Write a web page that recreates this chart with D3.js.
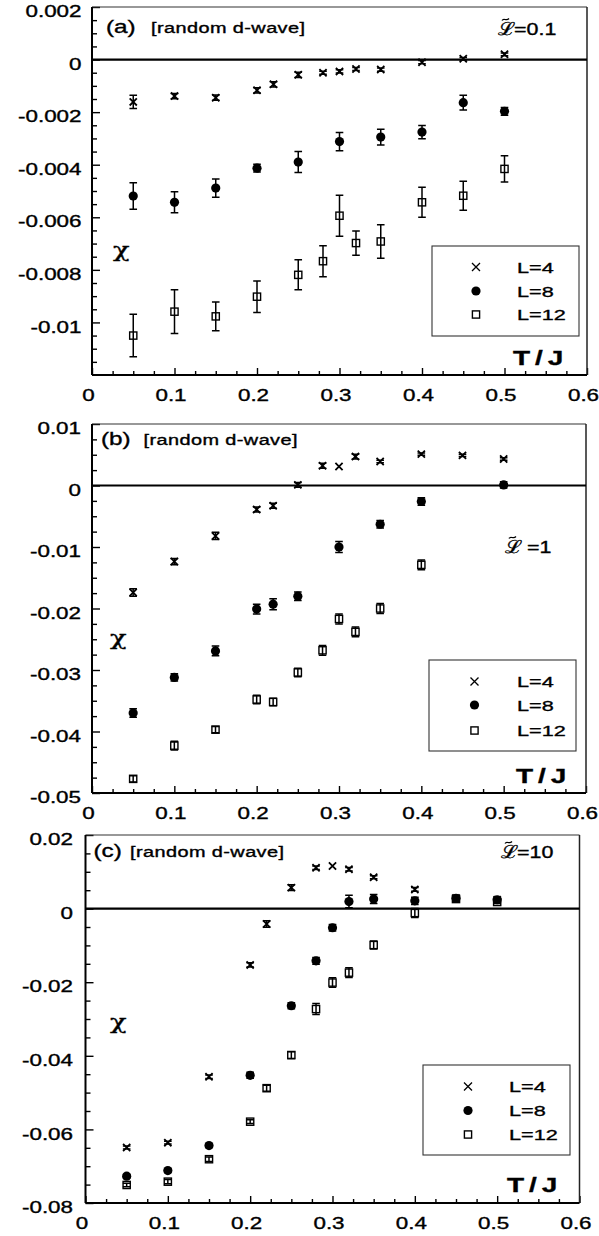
<!DOCTYPE html>
<html>
<head>
<meta charset="utf-8">
<script src="https://cdn.jsdelivr.net/npm/d3@7"></script>
<style>
body { margin: 0; background: #fff; }
svg { display: block; font-family: "Liberation Sans", Arial, sans-serif; }
svg text { stroke: #000; stroke-width: 0.35px; }
</style>
</head>
<body>
<svg id="chart" width="599" height="1236"></svg>
<script>
// temperatures T/J used by the simulations
const tAll  = [0.05, 0.1, 0.15, 0.2, 0.22, 0.25, 0.28, 0.3, 0.32, 0.35, 0.4, 0.45, 0.5];
const tNo22 = [0.05, 0.1, 0.15, 0.2, 0.25, 0.28, 0.3, 0.32, 0.35, 0.4, 0.45, 0.5];

// panel (a), L~ = 0.1
const aL4    = [-0.00161, -0.00139, -0.00145, -0.00117, -0.00094, -0.00058, -0.0005, -0.00045, -0.00036, -0.00038, -0.0001, 0.00003, 0.0002];
const aL4err = [0.00025, 0.0001, 0.0001, 0.0001, 0.0001, 0.0001, 0.00006, 0.00006, 0.00006, 0.00006, 0.00006, 0.00005, 0.00005];
const aL8T   = [0.05, 0.1, 0.15, 0.2, 0.25, 0.3, 0.35, 0.4, 0.45, 0.5];
const aL8    = [-0.00519, -0.00543, -0.00489, -0.00413, -0.0039, -0.00312, -0.00295, -0.00276, -0.00164, -0.00197];
const aL8err = [0.0005, 0.0004, 0.00035, 0.00015, 0.0004, 0.00035, 0.0003, 0.00025, 0.00028, 0.00015];
const aL12    = [-0.0105, -0.00959, -0.00977, -0.00902, -0.00819, -0.00767, -0.00594, -0.00698, -0.00692, -0.00543, -0.00518, -0.00416];
const aL12err = [0.00081, 0.00083, 0.00055, 0.0006, 0.00057, 0.00059, 0.00078, 0.00046, 0.00064, 0.00057, 0.00055, 0.0005];

// panel (b), L~ = 1
const bL4    = [-0.0174, -0.01237, -0.0082, -0.0039, -0.0033, 0.0001, 0.0032, 0.0031, 0.0047, 0.0039, 0.0051, 0.0049, 0.0043];
const bL4err = [0.0006, 0.0005, 0.0006, 0.0004, 0.0004, 0.0004, 0.0004, 0, 0.0004, 0.0002, 0.0002, 0.0002, 0.0002];
const bL8T   = [0.05, 0.1, 0.15, 0.2, 0.22, 0.25, 0.3, 0.35, 0.4, 0.5];
const bL8    = [-0.037, -0.0312, -0.0269, -0.0201, -0.0193, -0.018, -0.01, -0.0063, -0.0026, 0.0001];
const bL8err = [0.0007, 0.0006, 0.0008, 0.0008, 0.0009, 0.0007, 0.0009, 0.0006, 0.0006, 0.0005];
const bL12T   = [0.05, 0.1, 0.15, 0.2, 0.22, 0.25, 0.28, 0.3, 0.32, 0.35, 0.4];
const bL12    = [-0.0477, -0.0423, -0.0397, -0.0348, -0.0352, -0.0304, -0.0268, -0.0217, -0.0238, -0.02, -0.0129];
const bL12err = [0.0005, 0.0007, 0.0005, 0.0007, 0.0006, 0.0007, 0.0008, 0.0008, 0.0008, 0.0008, 0.0008];

// panel (c), L~ = 10
const cL4    = [-0.0649, -0.0636, -0.0457, -0.0153, -0.0042, 0.0057, 0.0111, 0.0116, 0.0107, 0.0085, 0.0052, 0.0029, 0.0024];
const cL4err = [0.0004, 0.0004, 0.0005, 0.0006, 0.0009, 0.0008, 0.0005, 0, 0.0005, 0.0004, 0.0005, 0.0003, 0.0003];
const cL8    = [-0.0727, -0.0712, -0.0644, -0.0453, -0.0264, -0.0142, -0.0052, 0.0019, 0.0026, 0.0021, 0.0028, 0.0024];
const cL8err = [0.0005, 0.0005, 0.0005, 0.0008, 0.0008, 0.0009, 0.0009, 0.0017, 0.0012, 0.001, 0.0005, 0.0005];
const cL12    = [-0.0751, -0.0742, -0.0681, -0.0579, -0.0488, -0.0398, -0.0273, -0.0201, -0.0174, -0.0099, -0.0012, 0.0026, 0.0018];
const cL12err = [0.0005, 0.0006, 0.0006, 0.0005, 0.0008, 0.0009, 0.0015, 0.0013, 0.0013, 0.0011, 0.0012, 0.0004, 0.0004];

// axis ticks
const xTicks  = [0, 0.1, 0.2, 0.3, 0.4, 0.5, 0.6];
const xLabels = ["0", "0.1", "0.2", "0.3", "0.4", "0.5", "0.6"];
const aYTicks  = [0.002, 0, -0.002, -0.004, -0.006, -0.008, -0.01];
const aYLabels = ["0.002", "0", "-0.002", "-0.004", "-0.006", "-0.008", "-0.01"];
const bYTicks  = [0.01, 0, -0.01, -0.02, -0.03, -0.04, -0.05];
const bYLabels = ["0.01", "0", "-0.01", "-0.02", "-0.03", "-0.04", "-0.05"];
const cYTicks  = [0.02, 0, -0.02, -0.04, -0.06, -0.08];
const cYLabels = ["0.02", "0", "-0.02", "-0.04", "-0.06", "-0.08"];

const legendNames = ["L=4", "L=8", "L=12"];

const SX = 1.4; // the scanned figure is stretched horizontally
const svg = d3.select("#chart");

function zip(ts, vs, es) {
    return ts.map((t, i) => ({ t: t, v: vs[i], e: es[i] }));
}

const panels = [
    {
        left: 92, right: 587, top: 7, bottom: 375, yDomain: [-0.012, 0.002], yMinor: 0.0005,
        yTicks: aYTicks, yLabels: aYLabels, labelGap: 10.5,
        tag: "(a)", tagX: 106, sub: 151, tagY: 33,
        lval: "=0.1", lx: 498, lvx: 514, ly: 35,
        chi: [113, 257], tj: [513, 365],
        legend: { x0: 432, x1: 579, y0: 246, y1: 336, mx: 476, tx: 517, rows: [267, 291, 314.5] },
        series: [zip(tNo22, aL12, aL12err), zip(aL8T, aL8, aL8err), zip(tAll, aL4, aL4err)]
    },
    {
        left: 92, right: 586, top: 424, bottom: 793, yDomain: [-0.05, 0.01], yMinor: 0.0025,
        yTicks: bYTicks, yLabels: bYLabels, labelGap: 11,
        tag: "(b)", tagX: 101, sub: 143.5, tagY: 445,
        lval: "=1", lx: 505, lvx: 527, ly: 553,
        chi: [110, 645], tj: [516, 783],
        legend: { x0: 429, x1: 576, y0: 660, y1: 751, mx: 474.5, tx: 517, rows: [681.5, 705, 730.5] },
        series: [zip(bL12T, bL12, bL12err), zip(bL8T, bL8, bL8err), zip(tAll, bL4, bL4err)]
    },
    {
        left: 85.5, right: 579.5, top: 835, bottom: 1203, yDomain: [-0.08, 0.02], yMinor: 0.005,
        yTicks: cYTicks, yLabels: cYLabels, labelGap: 12.5,
        tag: "(c)", tagX: 93.5, sub: 130, tagY: 857,
        lval: "=10", lx: 501, lvx: 517, ly: 858,
        chi: [110, 1029], tj: [507, 1191.5],
        legend: { x0: 423, x1: 570, y0: 1065, y1: 1155, mx: 468, tx: 509, rows: [1086.5, 1110.5, 1134.5] },
        series: [zip(tAll, cL12, cL12err), zip(tNo22, cL8, cL8err), zip(tAll, cL4, cL4err)]
    }
];

// wide text, like the scan
function stretchText(g, x, y, str, size, opts) {
    opts = opts || {};
    return g.append("text")
        .attr("transform", `translate(${x},${y}) scale(${opts.sx || SX},1)`)
        .attr("text-anchor", opts.anchor || "start")
        .style("font-size", size + "px")
        .style("font-weight", opts.weight || "normal")
        .style("font-family", opts.family || null)
        .style("letter-spacing", opts.spacing || null)
        .text(str);
}

// marker shapes: 0 = square (L=12), 1 = circle (L=8), 2 = cross (L=4)
function marker(g, kind, cx, cy, legend) {
    if (kind === 0) {
        g.append("rect").attr("x", cx - 3.6).attr("y", cy - 3.6).attr("width", 7.2).attr("height", 7.2)
            .attr("fill", "none").attr("stroke", "#000").attr("stroke-width", 1.4);
    } else if (kind === 1) {
        g.append("circle").attr("cx", cx).attr("cy", cy).attr("r", 4.6).attr("fill", "#000");
    } else {
        const h = legend ? 4 : 3.6;
        g.append("path")
            .attr("d", `M${cx - h},${cy - h}L${cx + h},${cy + h}M${cx - h},${cy + h}L${cx + h},${cy - h}`)
            .attr("stroke", "#000").attr("stroke-width", legend ? 1.3 : 1.8).attr("fill", "none");
    }
}

function drawPanel(p) {
    const x = d3.scaleLinear().domain([0, 0.6]).range([p.left, p.right]);
    const y = d3.scaleLinear().domain(p.yDomain).range([p.bottom, p.top]);
    const g = svg.append("g");

    const xMinor = d3.range(0, 0.6001, 0.025).filter((d, i) => i % 4 !== 0);
    const yMinor = d3.range(p.yDomain[0], p.yDomain[1] + 1e-9, p.yMinor).filter(d =>
        !p.yTicks.some(t => Math.abs(t - d) < 1e-9) && Math.abs(d - p.yDomain[0]) > 1e-9);

    // ticks point into the frame
    g.append("g").attr("transform", `translate(0,${p.bottom})`)
        .call(d3.axisBottom(x).tickValues(xMinor).tickSize(-4).tickFormat(""))
        .call(a => a.select(".domain").remove());
    g.append("g").attr("transform", `translate(0,${p.bottom})`)
        .call(d3.axisBottom(x).tickValues(xTicks).tickSize(-7).tickPadding(15)
            .tickFormat((d, i) => xLabels[i]))
        .call(a => a.select(".domain").remove())
        .call(a => a.selectAll("text").attr("transform", `translate(-4,0) scale(${SX},1)`)
            .style("font-size", "16px").attr("fill", "#000"));

    g.append("g").attr("transform", `translate(${p.left},0)`)
        .call(d3.axisLeft(y).tickValues(yMinor).tickSize(-5).tickFormat(""))
        .call(a => a.select(".domain").remove());
    g.append("g").attr("transform", `translate(${p.left},0)`)
        .call(d3.axisLeft(y).tickValues(p.yTicks).tickSize(-8).tickFormat((d, i) => p.yLabels[i]))
        .call(a => a.select(".domain").remove())
        .call(a => a.selectAll("text")
            .attr("x", -p.labelGap / SX)
            .attr("transform", `translate(0,4.5) scale(${SX},1)`)
            .style("font-size", "16px").attr("fill", "#000"));
    g.selectAll(".tick line").attr("stroke", "#000").attr("stroke-width", 1.4);

    // frame
    g.append("line").attr("x1", p.left).attr("x2", p.right).attr("y1", p.top).attr("y2", p.top)
        .attr("stroke", "#333").attr("stroke-width", 1.2);
    g.append("line").attr("x1", p.right).attr("x2", p.right).attr("y1", p.top).attr("y2", p.bottom)
        .attr("stroke", "#222").attr("stroke-width", 1.5);
    g.append("line").attr("x1", p.left).attr("x2", p.right).attr("y1", p.bottom).attr("y2", p.bottom)
        .attr("stroke", "#000").attr("stroke-width", 2);
    g.append("line").attr("x1", p.left).attr("x2", p.left).attr("y1", p.top).attr("y2", p.bottom)
        .attr("stroke", "#000").attr("stroke-width", 2);
    // zero line
    g.append("line").attr("x1", p.left).attr("x2", p.right).attr("y1", y(0)).attr("y2", y(0))
        .attr("stroke", "#000").attr("stroke-width", 2.2);

    // data with error bars
    p.series.forEach((s, k) => {
        const sg = g.append("g");
        s.forEach(d => {
            const cx = x(d.t), cy = y(d.v);
            if (d.e > 0) {
                const y1 = y(d.v - d.e), y2 = y(d.v + d.e);
                sg.append("path")
                    .attr("d", `M${cx},${y1}L${cx},${y2}M${cx - 3.8},${y1}L${cx + 3.8},${y1}M${cx - 3.8},${y2}L${cx + 3.8},${y2}`)
                    .attr("stroke", "#000").attr("stroke-width", 1.5).attr("fill", "none");
            }
            marker(sg, k, cx, cy, false);
        });
    });

    // legend
    const L = p.legend;
    g.append("rect").attr("x", L.x0).attr("y", L.y0).attr("width", L.x1 - L.x0).attr("height", L.y1 - L.y0)
        .attr("fill", "none").attr("stroke", "#333").attr("stroke-width", 1.1);
    [2, 1, 0].forEach((k, i) => {
        marker(g, k, L.mx, L.rows[i], true);
        stretchText(g, L.tx, L.rows[i] + 5.7, legendNames[i], 15.5, { sx: 1.4 });
    });

    // annotations
    stretchText(g, p.tagX, p.tagY, p.tag, 18, { sx: 1.35 });
    stretchText(g, p.sub, p.tagY, "[random d-wave]", 14, { sx: 1.42, spacing: "0.3px" });

    // script L, a small tilde drawn above it, then the value
    stretchText(g, p.lx, p.ly, "\u2112", 18, { sx: 1.15, family: "DejaVu Serif" });
    const tx = p.lx + 4, ty = p.ly - 16;
    g.append("path")
        .attr("d", `M${tx},${ty + 1.5}C${tx + 2},${ty - 2} ${tx + 4},${ty + 3} ${tx + 7},${ty - 0.5}`)
        .attr("stroke", "#000").attr("stroke-width", 1.2).attr("fill", "none");
    stretchText(g, p.lvx, p.ly, p.lval, 16.5, { sx: 1.3 });

    stretchText(g, p.chi[0], p.chi[1], "\u03C7", 21, { sx: 1.3, family: "DejaVu Serif" });
    stretchText(g, p.tj[0], p.tj[1], "T/J", 20, { sx: 1.4, weight: "bold", spacing: "3.5px" });
}

panels.forEach(drawPanel);
</script>
</body>
</html>
